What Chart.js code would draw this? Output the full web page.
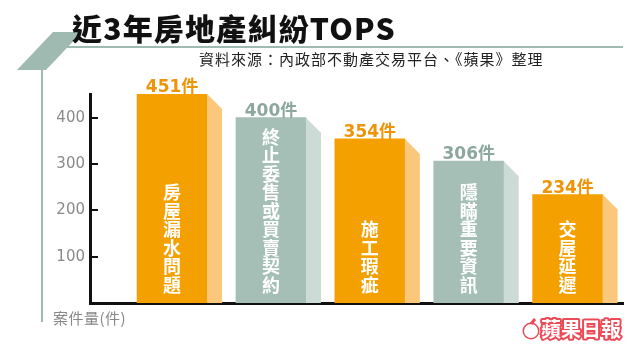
<!DOCTYPE html>
<html><head><meta charset="utf-8">
<script src="https://cdn.jsdelivr.net/npm/chart.js@4/dist/chart.umd.min.js"></script>
<style>html,body{margin:0;padding:0;background:#fff}#wrap{width:640px;height:362px;position:relative}</style>
</head><body><div id="wrap"><canvas id="c" width="640" height="362"></canvas></div>
<script>
// ---- data ----
const categories = ['房屋漏水問題', '終止委售或買賣契約', '施工瑕疵', '隱瞞重要資訊', '交屋延遲'];
const caseCounts = [451, 400, 354, 306, 234];
const yTicks = [100, 200, 300, 400];
const unitText = '件';
const titleText = '近3年房地產糾紛TOPS';
const sourceText = '資料來源：內政部不動產交易平台、《蘋果》整理';
const axisTitle = '案件量(件)';
const logoText = '蘋果日報';

// ---- styles ----
const ORANGE = '#f4a000', ORANGE_SIDE = '#fbc77a', ORANGE_LABEL = '#ef9408';
const GRAY = '#a5bfb6', GRAY_SIDE = '#cddbd6', GRAY_LABEL = '#8ca79e';
const TEAL = '#9fbab0';
const frontColors = caseCounts.map((v, i) => i % 2 ? GRAY : ORANGE);
const sideColors = caseCounts.map((v, i) => i % 2 ? GRAY_SIDE : ORANGE_SIDE);
const labelColors = caseCounts.map((v, i) => i % 2 ? GRAY_LABEL : ORANGE_LABEL);

const deco = {
  id: 'deco',
  beforeDraw(ch) {
    const c = ch.ctx; c.save();
    c.fillStyle = '#fff'; c.fillRect(0, 0, ch.width, ch.height);
    c.fillStyle = TEAL;
    c.beginPath(); c.moveTo(17, 70); c.lineTo(46, 70); c.lineTo(82, 32); c.lineTo(53, 32); c.closePath(); c.fill();
    c.fillRect(60, 46, 563, 2);
    c.fillRect(41, 70, 2, 252);
    c.restore();
  },
  afterDatasetsDraw(ch) {
    const c = ch.ctx; c.save();
    const meta = ch.getDatasetMeta(0);
    meta.data.forEach((b, i) => {
      const p = b.getProps(['x', 'y', 'width', 'base'], true);
      const r = p.x + p.width / 2;
      // side face
      c.fillStyle = sideColors[i];
      c.beginPath(); c.moveTo(r, p.y); c.lineTo(r + 15, p.y + 15); c.lineTo(r + 15, p.base); c.lineTo(r, p.base); c.closePath(); c.fill();
      // value label
      c.fillStyle = labelColors[i];
      c.font = 'bold 17px "DejaVu Sans", "Noto Sans CJK TC"';
      c.textAlign = 'center'; c.textBaseline = 'alphabetic';
      c.fillText(caseCounts[i] + unitText, p.x, p.y - 2);
      // vertical category text
      const chars = Array.from(categories[i]);
      const n = chars.length;
      c.fillStyle = '#fff';
      c.font = 'bold 18px "Noto Sans CJK TC"';
      c.textBaseline = 'middle';
      chars.forEach((ch2, k) => {
        c.fillText(ch2, p.x, p.base - 18 - (n - 1 - k) * 18.5);
      });
    });
    c.restore();
  },
  afterDraw(ch) {
    const c = ch.ctx; c.save();
    // tick marks inside
    const ys = ch.scales.y; const L = ch.chartArea.left;
    c.fillStyle = '#111';
    yTicks.forEach(v => { const y = Math.round(ys.getPixelForValue(v)); c.fillRect(L + 1, y - 1, 7, 2); });
    // title
    c.fillStyle = '#111';
    c.font = '900 30px "Noto Sans CJK TC"';
    c.textAlign = 'left'; c.textBaseline = 'alphabetic';
    c.letterSpacing = '1.2px';
    c.fillText(titleText, 72, 40);
    // source
    c.fillStyle = '#222';
    c.font = '15px "Noto Sans CJK TC"';
    c.letterSpacing = '1px';
    c.fillText(sourceText, 199, 65);
    // axis title
    c.fillStyle = '#888';
    c.font = '15px "Noto Sans CJK TC"';
    c.letterSpacing = '0.5px';
    c.fillText(axisTitle, 53, 324);
    c.letterSpacing = '0px';
    // logo
    c.strokeStyle = '#ec4a56'; c.lineWidth = 3; c.lineJoin = 'round';
    c.beginPath(); c.arc(531, 331, 7, 0, Math.PI * 2); c.stroke();
    c.fillStyle = '#fff'; c.fill();
    c.beginPath(); c.moveTo(531, 324); c.lineTo(535, 319); c.stroke();
    c.font = 'bold 20px "Noto Sans CJK TC"';
    c.lineWidth = 4;
    c.strokeText(logoText, 541, 337);
    c.fillStyle = '#fff';
    c.fillText(logoText, 541, 337);
    c.restore();
  }
};

new Chart(document.getElementById('c'), {
  type: 'bar',
  data: {
    datasets: [{
      data: caseCounts.map((v, i) => ({ x: i, y: v })),
      backgroundColor: frontColors,
      borderWidth: 0,
      barThickness: 70
    }]
  },
  options: {
    responsive: false, animation: false, devicePixelRatio: 1,
    layout: { padding: { top: 94, left: 30, right: 17, bottom: 49 } },
    plugins: { legend: { display: false }, tooltip: { enabled: false } },
    scales: {
      x: {
        type: 'linear', min: -0.83, max: 4.56, offset: false, z: 1,
        grid: { display: false }, ticks: { display: false },
        border: { display: true, color: '#111', width: 3 },
        afterFit(s) { s.height = 10; }
      },
      y: {
        min: 0, max: 451,
        grid: { display: false, drawTicks: false },
        border: { display: true, color: '#111', width: 3 },
        afterFit(s) { s.width = 60; },
        ticks: {
          stepSize: 100, padding: 5, color: '#8a8a8a',
          font: { family: 'DejaVu Sans', size: 15 },
          callback: (v) => yTicks.includes(v) ? String(v) : ''
        }
      }
    }
  },
  plugins: [deco]
});
</script>
</body></html>
